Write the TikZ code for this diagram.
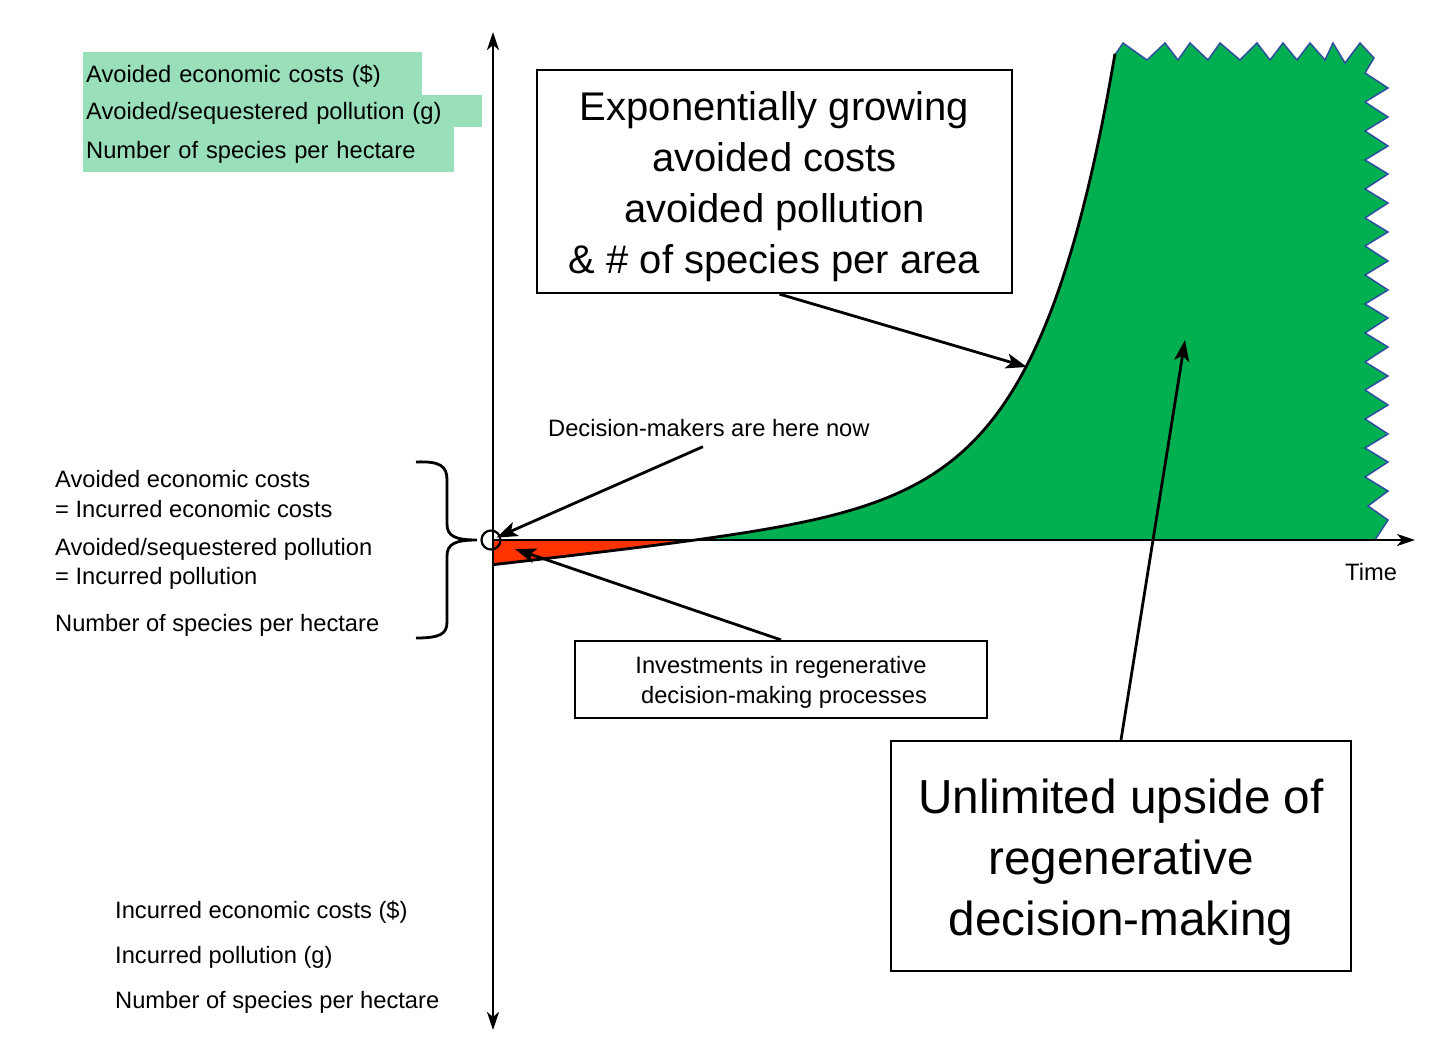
\documentclass[tikz,border=0pt]{standalone}
\usepackage{fontspec}
\setmainfont{Liberation Sans}
\usetikzlibrary{arrows.meta,positioning}
\definecolor{upgreen}{HTML}{00B050}
\definecolor{labgreen}{HTML}{99DFBA}
\definecolor{lossred}{HTML}{FF3300}
\definecolor{edgeblue}{HTML}{2F4F9F}

\begin{document}
\begin{tikzpicture}[x=1pt, y=-1pt,
		lbl/.style={font=\fontsize{23.7}{30}\selectfont, text height=17pt, text depth=0pt, inner sep=0pt, anchor=west},
		hl/.style={lbl, fill=labgreen, anchor=north west, inner xsep=3pt, align=left},
		box/.style={draw, line width=2.2pt, inner sep=0pt},
		boxtext/.style={align=center, inner sep=0pt},
		ptr/.style={line width=2.8pt, -{Stealth[length=21pt, width=15pt, inset=5pt]}},
		axis/.style={line width=2.8pt, {Stealth[length=18pt, width=12pt, inset=5pt]}-{Stealth[length=18pt, width=12pt, inset=5pt]}}]
	\useasboundingbox (0,0) rectangle (1456,1057);
	\coordinate (origin) at (493,540);
	\coordinate (ytop) at (493,32);
	\coordinate (ybot) at (493,1030);
	\coordinate (xend) at (1415,540);
	\coordinate (curvept) at (1027,367);
	\coordinate (lossarea) at (515,549);
	\coordinate (gainarea) at (1185,340);

	\begin{scope}
		\clip (493,0) rectangle (1456,540);
		\fill[upgreen] plot[domain=493:1115, samples=90, smooth, variable=\t] ({\t},{540-0.114*(\t-695)-1.79*(exp(0.0131*(\t-695))-1)}) -- (1123,43) -- (1147,60) -- (1165,43) -- (1178,60) -- (1190,43) -- (1208,60) -- (1220,43) -- (1240,60) -- (1257,43) -- (1270,60) -- (1283,43) -- (1297,60) -- (1310,43) -- (1325,60) -- (1333,43) -- (1345,63) -- (1360,43) -- (1374,58) -- (1365,73) -- (1388,88) -- (1365,102) -- (1388,117) -- (1365,131) -- (1388,146) -- (1365,160) -- (1388,174) -- (1365,189) -- (1388,203) -- (1365,218) -- (1388,232) -- (1365,246) -- (1388,261) -- (1365,275) -- (1388,290) -- (1365,304) -- (1388,318) -- (1365,333) -- (1388,347) -- (1365,362) -- (1388,376) -- (1365,390) -- (1388,405) -- (1365,419) -- (1388,434) -- (1365,448) -- (1388,462) -- (1365,477) -- (1388,491) -- (1368,506) -- (1388,520) -- (1375,540) -- (493,600) -- cycle;
	\end{scope}
	\draw[edgeblue, line width=1.5pt] (1115,55) -- (1123,43) -- (1147,60) -- (1165,43) -- (1178,60) -- (1190,43) -- (1208,60) -- (1220,43) -- (1240,60) -- (1257,43) -- (1270,60) -- (1283,43) -- (1297,60) -- (1310,43) -- (1325,60) -- (1333,43) -- (1345,63) -- (1360,43) -- (1374,58) -- (1365,73) -- (1388,88) -- (1365,102) -- (1388,117) -- (1365,131) -- (1388,146) -- (1365,160) -- (1388,174) -- (1365,189) -- (1388,203) -- (1365,218) -- (1388,232) -- (1365,246) -- (1388,261) -- (1365,275) -- (1388,290) -- (1365,304) -- (1388,318) -- (1365,333) -- (1388,347) -- (1365,362) -- (1388,376) -- (1365,390) -- (1388,405) -- (1365,419) -- (1388,434) -- (1365,448) -- (1388,462) -- (1365,477) -- (1388,491) -- (1368,506) -- (1388,520) -- (1375,540);
	\begin{scope}
		\clip (493,540) rectangle (800,600);
		\fill[lossred, draw=edgeblue, line width=1.5pt] (493,540) -- plot[domain=493:720, samples=20, smooth, variable=\t] ({\t},{540-0.114*(\t-695)-1.79*(exp(0.0131*(\t-695))-1)}) -- cycle;
	\end{scope}
	\draw[line width=2.8pt] plot[domain=493:1115, samples=90, smooth, variable=\t] ({\t},{540-0.114*(\t-695)-1.79*(exp(0.0131*(\t-695))-1)});

	\draw[axis] (ybot) -- (ytop);
	\draw[line width=2.8pt, -{Stealth[length=18pt, width=12pt, inset=5pt]}] (origin) -- (xend);
	\node[lbl] (time) at (1345,572) {Time};
	\node[circle, draw, line width=2.2pt, minimum size=19pt, inner sep=0pt] (now) at (491,540) {};

	\node[hl, text width=333pt, minimum height=43pt] (avc) at (83,52) {Avoided economic costs (\$)};
	\node[hl, text width=393pt, minimum height=32pt] (avp) at (83,95) {Avoided/sequestered pollution (g)};
	\node[hl, text width=365pt, minimum height=45pt] (avs) at (83,127) {Number of species per hectare};

	\node[lbl] (eq1) at (55,479) {Avoided economic costs};
	\node[lbl] (eq2) at (55,509) {= Incurred economic costs};
	\node[lbl] (eq3) at (55,547) {Avoided/sequestered pollution};
	\node[lbl] (eq4) at (55,576) {= Incurred pollution};
	\node[lbl] (eq5) at (55,623) {Number of species per hectare};
	\draw[line width=2.8pt] (416,462) .. controls (440,461) and (447,466) .. (447,480) -- (447,524) .. controls (447,536) and (455,540) .. (477,540) .. controls (455,540) and (447,544) .. (447,556) -- (447,622) .. controls (447,634) and (440,638) .. (416,638);

	\node[lbl] (inc1) at (115,910) {Incurred economic costs (\$)};
	\node[lbl] (inc2) at (115,955) {Incurred pollution (g)};
	\node[lbl] (inc3) at (115,1000) {Number of species per hectare};

	\node[lbl] (dm) at (548,428) {Decision-makers are here now};

	\node[box, minimum width=475pt, minimum height=223pt] (expo) at (774.5,181.5) {};
	\node[boxtext, font=\fontsize{40}{51}\selectfont] (expotext) at (774.5,186.5) {Exponentially growing\\avoided costs\\avoided pollution\\\& \# of species per area};
	\node[box, minimum width=412pt, minimum height=77pt] (inv) at (781,679.5) {};
	\node[boxtext, font=\fontsize{23.7}{30}\selectfont] (invtext) at (781,682.5) {Investments in regenerative\\\hspace*{6pt}decision-making processes};
	\node[box, minimum width=460pt, minimum height=230pt] (unl) at (1121,856) {};
	\node[boxtext, font=\fontsize{47.7}{61}\selectfont] (unltext) at (1121,862) {Unlimited upside of\\regenerative\\decision-making};

	\draw[ptr] ([xshift=5pt]expo.south) -- (curvept);
	\draw[ptr, shorten >=6pt] ([xshift=-6pt, yshift=-10pt]dm.south) -- (now.center);
	\draw[ptr] (inv.north) -- (lossarea);
	\draw[ptr] (unl.north) -- (gainarea);
\end{tikzpicture}
\end{document}
